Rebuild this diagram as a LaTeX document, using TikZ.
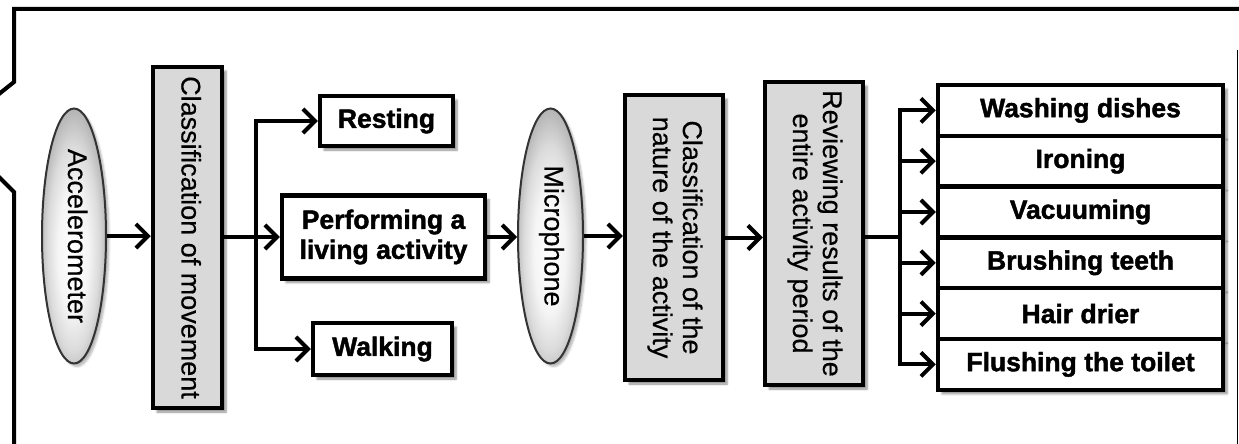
\documentclass[tikz,border=0pt]{standalone}
\usepackage{fontspec}
\usepackage{graphicx}
\setmainfont{Liberation Sans}
\newfontfamily\heavyfont{Liberation Sans Bold}[FakeBold=1.6]
\newfontfamily\labelfont{Liberation Sans}[FakeBold=0.4]
\usetikzlibrary{shapes.geometric, arrows.meta, shadows.blur}

% soft grey lens look of the sensor ellipses
\pgfdeclareradialshading{sensorshade}{\pgfpoint{-1bp}{-4bp}}{%
  color(0bp)=(white); color(12bp)=(white!96!black); color(20bp)=(white!86!black);
  color(27bp)=(white!70!black); color(32bp)=(white!55!black); color(36bp)=(white!45!black);
  color(50bp)=(white!45!black)}

\tikzset{
  every node/.style={inner sep=0pt, align=center},
  boxshadow/.style={blur shadow={shadow xshift=4pt, shadow yshift=-4pt,
      shadow blur steps=6, shadow opacity=45}},
  box/.style={draw, line width=4.5pt, fill=white, boxshadow,
      font=\fontsize{26.5}{30}\selectfont\heavyfont},
  gbox/.style={draw, line width=4.5pt, fill=gray!30, boxshadow,
      font=\fontsize{27}{30}\selectfont\labelfont},
  sensor/.style={ellipse, draw=black!80, line width=2pt, shading=sensorshade,
      blur shadow={shadow xshift=3pt, shadow yshift=-3pt, shadow blur steps=5, shadow opacity=30},
      font=\fontsize{27}{30}\selectfont\labelfont},
  link/.style={line width=4pt},
  arr/.style={line width=4pt, -{Straight Barb[length=12pt, width=24pt]}},
  frameline/.style={line width=4pt},
}

\newcommand{\vtext}[1]{\rotatebox{-90}{\begin{tabular}{@{}c@{}}#1\end{tabular}}}

\begin{document}
\begin{tikzpicture}[x=1pt, y=-1pt]
  \useasboundingbox (0,0) rectangle (1239,444);

  % outer frame
  \draw[frameline] (1250,9) -- (14,9) -- (14,82) -- (-6,98);
  \draw[frameline] (-6,172) -- (14,192) -- (14,460);
  \draw[line width=1pt] (1237.5,50) -- (1237.5,460);

  % first stage: accelerometer and movement classes
  \node[sensor, minimum width=64, minimum height=255] (acc) at (74,236)
    {\vtext{Accelerometer}};
  \node[gbox, minimum width=69, minimum height=341] (cm) at (187.5,237.5)
    {\vtext{Classification of movement}};
  \node[box, minimum width=133, minimum height=50] (rest) at (386.5,121) {Resting};
  \node[box, minimum width=203, minimum height=83] (perf) at (383.5,237)
    {Performing a\\living activity};
  \node[box, minimum width=139, minimum height=52] (walk) at (382.5,349) {Walking};

  % second stage: microphone and activity classes
  \node[sensor, minimum width=65, minimum height=255] (mic) at (550.5,236)
    {\vtext{Microphone}};
  \node[gbox, minimum width=98, minimum height=285] (cn) at (674,237.5)
    {\vtext{Classification of the\\nature of the activity}};
  \node[gbox, minimum width=98, minimum height=303] (rev) at (814,233.5)
    {\vtext{Reviewing results of the\\entire activity period}};

  % resulting activities
  \foreach \name/\txt [count=\i from 0] in
    {wd/Washing dishes, ir/Ironing, vac/Vacuuming, bt/Brushing teeth,
     hd/Hair drier, ft/Flushing the toilet}
    \node[box, minimum width=285, minimum height=50.8] (\name) at (1080.5,110.4+50.8*\i) {\txt};

  % connectors
  \coordinate (f1) at (256,237);
  \coordinate (f2) at (900,237);

  \draw[arr] (acc.east) -- (acc.east -| cm.west);
  \draw[link] (cm.east |- f1) -- (f1);
  \draw[arr] (f1) |- (rest.west);
  \draw[arr] (f1) |- (walk.west);
  \draw[arr] (f1) -- (f1 -| perf.west);
  \draw[arr] (perf.east) -- (perf.east -| mic.west);
  \draw[arr] (mic.east) -- (mic.east -| cn.west);
  \draw[arr] (cn.east) -- (cn.east -| rev.west);
  \draw[link] (rev.east |- f2) -- (f2);
  \foreach \name in {wd, ir, vac, bt, hd, ft}
    \draw[arr] (f2) |- (\name.west);
\end{tikzpicture}
\end{document}
